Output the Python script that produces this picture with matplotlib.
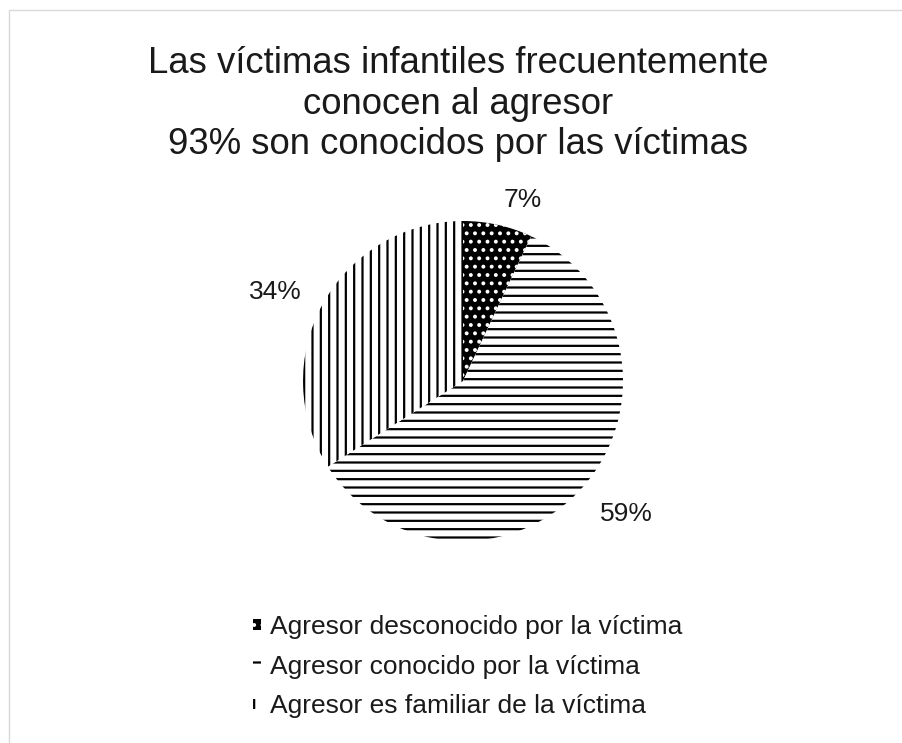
import matplotlib.pyplot as plt
import matplotlib.patches as mpatches
import numpy as np

plt.rcParams['font.family'] = ['Liberation Sans', 'DejaVu Sans']
plt.rcParams['hatch.linewidth'] = 1.6

# Data
title = "Las víctimas infantiles frecuentemente\nconocen al agresor\n93% son conocidos por las víctimas"
categories = ["Agresor desconocido por la víctima",
              "Agresor conocido por la víctima",
              "Agresor es familiar de la víctima"]
values = [7, 59, 34]

# Styles
face_colors = ['black', 'white', 'white']
hatch_colors = ['white', 'black', 'black']
hatches = ['..', '--', '||']
label_dist = [1.16, 1.14, 1.15]
label_ha = ['left', 'left', 'right']
label_va = ['center', 'top', 'center']

W, H = 902, 743
fig = plt.figure(figsize=(W / 100, H / 100), dpi=100)

# thin chart-area border (left/top visible)
fig.patches.append(mpatches.Rectangle((9 / W, -0.1), 1.2, 1 - 10 / H + 0.1,
                                      transform=fig.transFigure, fill=False,
                                      edgecolor='#d9d9d9', linewidth=1.0))

cx, cy, r = 463, 381, 160
ax = fig.add_axes([(cx - r) / W, (H - cy - r) / H, 2 * r / W, 2 * r / H])

wedges, _ = ax.pie(values, startangle=90, counterclock=False, radius=1,
                   wedgeprops=dict(linewidth=0))
for w, fc, hc, h in zip(wedges, face_colors, hatch_colors, hatches):
    w.set_facecolor(fc)
    w.set_edgecolor(hc)
    w.set_hatch(h)
    w.set_linewidth(0)

# percentage labels outside the slices
total = sum(values)
start = 90.0
for v, d, ha, va in zip(values, label_dist, label_ha, label_va):
    sweep = 360.0 * v / total
    mid = np.deg2rad(start - sweep / 2)
    ax.text(d * np.cos(mid), d * np.sin(mid), f"{v}%", ha=ha, va=va,
            fontsize=19, color='#1a1a1a', clip_on=False)
    start -= sweep

ax.set_xlim(-1, 1)
ax.set_ylim(-1, 1)
ax.set_aspect('equal')
ax.axis('off')

fig.text(458 / W, 1 - 104 / H, title, ha='center', va='center',
         fontsize=26.3, color='#1a1a1a', linespacing=1.22)

leg = fig.legend(wedges, categories, loc='upper left',
                 bbox_to_anchor=(229 / W, 1 - 591 / H), frameon=False,
                 fontsize=19, handlelength=0.3, handleheight=0.25,
                 handletextpad=0.35, labelspacing=0.6, labelcolor='#1a1a1a')

fig.savefig("out.png", dpi=100, facecolor='white')
